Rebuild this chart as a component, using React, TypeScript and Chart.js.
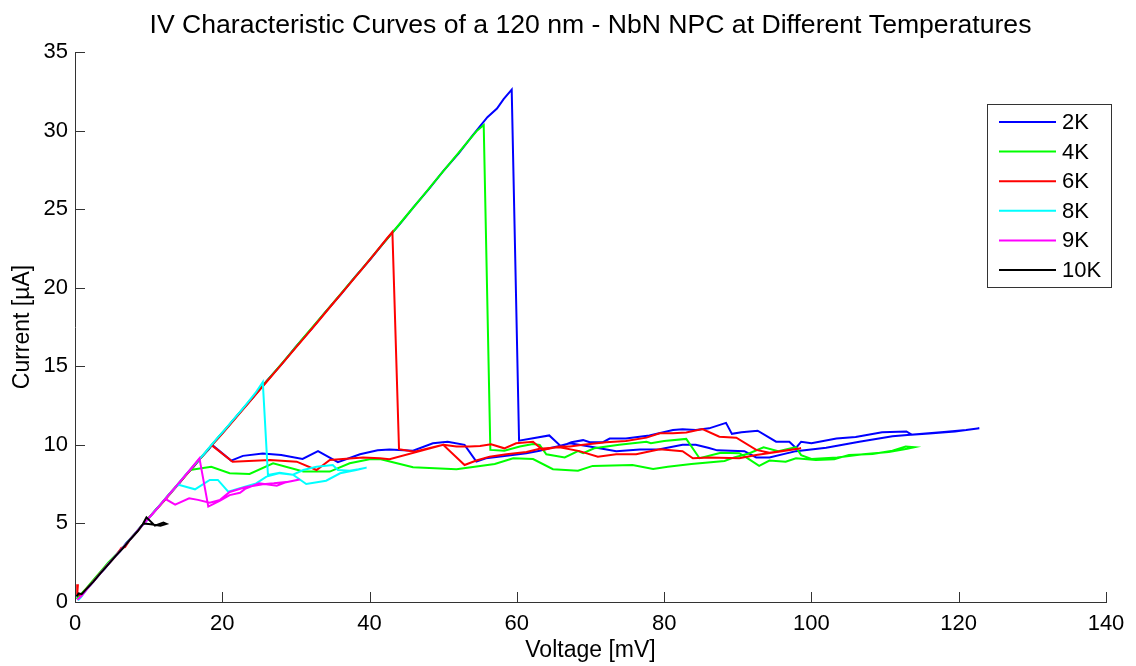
import React, { useEffect, useRef } from "react";
import { Chart, registerables } from "chart.js";

Chart.register(...registerables);

const FONT = '"Liberation Sans", Arial, Helvetica, sans-serif';
const AXIS_COLOR = "#333333";

const TITLE = "IV Characteristic Curves of a 120 nm - NbN NPC at Different Temperatures";
const X_LABEL = "Voltage [mV]";
const Y_LABEL = "Current [µA]";
const SERIES_LABELS = ["2K", "4K", "6K", "8K", "9K", "10K"];
const SERIES_COLORS = ["#0000ff", "#00ff00", "#ff0000", "#00ffff", "#ff00ff", "#000000"];
const X_TICKS = [0, 20, 40, 60, 80, 100, 120, 140];
const Y_TICKS = [0, 5, 10, 15, 20, 25, 30, 35];

// [voltage mV, current µA] in sweep order
const iv2K: [number, number][] = [
  [0.2, 0.45], [0.6, 0.3], [1.2, 0.6], [2.1, 1.1], [3, 1.62], [4.1, 2.15], [5, 2.7], [6.1, 3.22], [7, 3.78], [8.1, 4.3],
  [9, 4.82], [10.1, 5.38], [11, 5.9], [12.1, 6.45], [13, 6.97], [14.1, 7.52], [15, 8.06], [16.1, 8.6], [17, 9.13], [18.1, 9.68],
  [19, 10.22], [20.1, 10.8], [22, 11.86], [24.1, 12.98], [26, 14.05], [28.1, 15.15], [30, 16.25], [32.1, 17.37], [34, 18.45],
  [36.1, 19.58], [38, 20.68], [40.1, 21.8], [42, 22.9], [44.1, 24.05], [46, 25.15], [48.1, 26.3], [50, 27.42], [52.1, 28.55],
  [54, 29.7], [56, 30.85], [57.3, 31.4], [58.2, 32.0], [59.3, 32.6],
  [60.3, 10.27], [62.2, 10.42], [64.4, 10.6], [66, 9.9], [67.4, 10.17], [69, 10.3], [69.9, 10.17], [71.7, 10.17], [72.6, 10.4],
  [74.8, 10.4], [78, 10.6], [81.2, 10.95], [82.5, 11.0], [84.3, 10.95], [86.1, 11.05], [88.4, 11.4], [89.2, 10.7], [90.5, 10.8],
  [92.7, 10.9], [95.2, 10.2], [97, 10.2], [97.9, 9.8], [98.6, 10.2], [100, 10.1], [103.4, 10.4], [106, 10.5], [109.6, 10.8],
  [112.9, 10.85], [113.6, 10.65], [116, 10.72], [119.5, 10.85], [122.8, 11.05],
  [121, 10.95], [118, 10.82], [115.5, 10.72], [111, 10.55], [106.5, 10.2], [102, 9.82], [97.9, 9.6], [94.3, 9.2], [92.5, 9.2],
  [90.9, 9.6], [87.2, 9.65], [86.1, 9.8], [84.3, 10.0], [82.5, 10.0], [79.4, 9.72], [76.7, 9.7], [73.5, 9.6], [69.9, 9.9],
  [67.2, 10.1], [65.5, 9.9], [64.4, 9.78], [63.1, 9.63], [61.3, 9.47], [58.6, 9.3], [55.8, 9.15], [54.5, 8.93], [52.9, 10.0],
  [50.6, 10.2], [48.6, 10.1], [45.9, 9.63], [42.7, 9.7], [41.1, 9.65], [38.7, 9.4], [35.7, 8.9], [33, 9.6], [30.9, 9.1],
  [28, 9.35], [25.5, 9.45], [22.8, 9.3], [21.2, 9.0], [18.6, 10.0],
];

const iv4K: [number, number][] = [
  [0.2, 0.2], [0.7, 0.45], [1.5, 0.85], [2.5, 1.4], [3.5, 1.95], [4.5, 2.5], [5.5, 2.98], [6.5, 3.48], [7.5, 4.02], [8.5, 4.55],
  [9.5, 5.1], [10.5, 5.62], [11.5, 6.15], [12.5, 6.7], [13.5, 7.25], [14.5, 7.78], [15.5, 8.32], [16.5, 8.86], [17.5, 9.4],
  [18.5, 9.95], [19.5, 10.5], [21, 11.3], [23, 12.4], [25, 13.5], [27, 14.58], [29, 15.68], [31, 16.8], [33, 17.9], [35, 19.0],
  [37, 20.12], [39, 21.22], [41, 22.35], [43, 23.45], [45, 24.58], [47, 25.7], [49, 26.85], [51, 27.98], [53, 29.1],
  [54.5, 29.95], [55.5, 30.35],
  [56.4, 9.68], [58.3, 9.63], [60.4, 9.9], [62.2, 10.06], [63.1, 10.0], [64, 9.4], [66.5, 9.2], [68.3, 9.6], [69, 9.47],
  [70.5, 9.78], [73.9, 10.0], [77.6, 10.2], [78.2, 10.1], [80, 10.25], [83, 10.38], [84.8, 9.15], [87.7, 9.5], [90.2, 9.47],
  [91.3, 9.15], [92.9, 8.66], [94.3, 9.0], [96.5, 8.93], [97.9, 9.15], [100.6, 9.04], [103.1, 9.08], [105.1, 9.36],
  [108.3, 9.42], [111, 9.63], [112.8, 9.9], [114, 9.85],
  [113, 9.75], [110.5, 9.55], [107, 9.4], [103.5, 9.2], [100, 9.1], [98.6, 9.35], [97.9, 9.85], [95.5, 9.6], [93.5, 9.85],
  [91.5, 9.45], [89.5, 9.2], [88.2, 8.97], [83.7, 8.78], [80.5, 8.6], [78.5, 8.47], [75.7, 8.72], [70.3, 8.66], [68.3, 8.36],
  [64.9, 8.45], [62.2, 9.1], [59.5, 9.15], [57, 8.78], [51.8, 8.45], [45.9, 8.57], [41.4, 9.1], [40, 9.09], [37.3, 8.83],
  [34.6, 8.3], [31, 8.3], [26.9, 8.83], [23.7, 8.15], [21, 8.2], [18.5, 8.6], [15.6, 8.4],
];

const iv6K: [number, number][] = [
  [0.4, 1.13], [0.3, 0.5], [0.8, 0.4], [1.5, 0.8], [2.5, 1.32], [3.5, 1.88], [4.5, 2.4], [5.5, 2.9], [6.3, 3.45], [6.8, 3.5],
  [7.5, 4.0], [8.5, 4.52], [9.5, 5.08], [10.5, 5.6], [11.5, 6.12], [12.5, 6.65], [13.5, 7.2], [14.5, 7.75], [15.5, 8.3],
  [16.5, 8.85], [17.5, 9.4], [18.5, 9.95], [19.5, 10.45], [21, 11.25], [23, 12.35], [25, 13.45], [26, 14.0], [27, 14.55],
  [29, 15.65], [31, 16.75], [33, 17.85], [35, 18.98], [37, 20.08], [39, 21.2], [41, 22.35], [42.3, 23.1], [43.1, 23.55],
  [44, 9.72], [46.1, 9.57], [50, 10.0], [51.8, 9.9], [53.6, 9.9], [55, 9.93], [56.5, 10.04], [58.3, 9.78], [59.9, 10.1],
  [62.2, 10.2], [63.5, 9.68], [65.8, 9.9], [67.2, 9.9], [69, 10.0], [72.1, 10.17], [74.8, 10.25], [77.6, 10.46], [79.4, 10.74],
  [81.2, 10.74], [83, 10.78], [85.2, 11.0], [87.5, 10.52], [89.8, 10.46], [92.5, 9.68], [94.3, 9.5], [98.6, 9.78],
  [96, 9.6], [92.5, 9.36], [90.2, 9.15], [86.1, 9.19], [83.9, 9.15], [82.5, 9.6], [79.4, 9.72], [76.2, 9.4], [73.5, 9.4],
  [71, 9.25], [68.5, 9.6], [65.8, 9.85], [63.1, 9.75], [61.3, 9.55], [58.6, 9.4], [56.3, 9.25], [54.5, 9.0], [52.9, 8.72],
  [50, 10.0], [42.7, 9.09], [41.4, 9.15], [39.1, 9.2], [34.6, 9.04], [32.8, 8.4], [30.1, 8.93], [26.5, 9.04], [21.4, 8.93],
  [18.5, 10.0],
];

const iv8K: [number, number][] = [
  [0.4, 0.1], [0.8, 0.3], [1.5, 0.75], [2.5, 1.3], [3.5, 1.85], [4.5, 2.4], [5.5, 2.92], [6.5, 3.46], [7.5, 4.0], [8.5, 4.55],
  [9.5, 5.05], [10.5, 5.6], [11.5, 6.15], [12.5, 6.7], [13.5, 7.22], [14.5, 7.8], [15.5, 8.35], [16.5, 8.88], [17.5, 9.42],
  [18.5, 9.98], [19.5, 10.52], [20.5, 11.05], [21.5, 11.6], [22.5, 12.15], [23.5, 12.72], [24.5, 13.3], [25.5, 14.0],
  [26.2, 8.08], [27.8, 8.23], [29.6, 8.1], [31, 8.4], [32.8, 8.6], [35, 8.72], [35.7, 8.4], [37.3, 8.36], [38.5, 8.45],
  [39.6, 8.55],
  [38.2, 8.4], [36, 8.19], [34.1, 7.72], [31.4, 7.51], [29.6, 8.1], [27.8, 8.2], [26, 7.98], [24.6, 7.55], [22.4, 7.24],
  [20.8, 7.02], [19.4, 7.77], [18.3, 7.77], [16.3, 7.17], [14.2, 7.45], [13.6, 7.35],
];

const iv9K: [number, number][] = [
  [0.3, 0.15], [0.9, 0.4], [1.6, 0.8], [2.6, 1.35], [3.6, 1.9], [4.6, 2.45], [5.6, 2.98], [6.6, 3.5], [7.6, 4.05], [8.6, 4.6],
  [9.6, 5.12], [10.6, 5.65], [11.6, 6.2], [12.6, 6.75], [13.6, 7.3], [14.6, 7.85], [15.6, 8.4], [16.3, 8.8], [16.9, 9.15],
  [18.1, 6.07], [19.7, 6.45], [21, 6.8], [22.4, 6.95], [23.1, 7.2], [25, 7.55], [27.4, 7.4], [28.5, 7.6], [30.5, 7.8],
  [29, 7.65], [27, 7.55], [25.5, 7.5], [23.1, 7.3], [21, 7.0], [19.7, 6.5], [18.3, 6.32], [16.7, 6.5], [15.5, 6.6],
  [13.6, 6.2], [12.3, 6.55], [11.9, 6.4],
];

const iv10K: [number, number][] = [
  [0.2, 0.35], [0.5, 0.55], [0.9, 0.5], [1.5, 0.8], [2.5, 1.3], [3.5, 1.85], [4.5, 2.38], [5.5, 2.92], [6.5, 3.42],
  [7.5, 3.98], [8.5, 4.5], [9.2, 4.95], [9.7, 5.39], [10.85, 4.86], [12.0, 5.05], [12.4, 4.97], [11.6, 4.86], [10.3, 4.95],
  [9.3, 5.0],
];

const SERIES_DATA = [iv2K, iv4K, iv6K, iv8K, iv9K, iv10K];

const decorPlugin = {
  id: "decor",
  afterDraw(chart: any) {
    const ctx: CanvasRenderingContext2D = chart.ctx;
    const { left, right, bottom } = chart.chartArea;
    const xs = chart.scales.x;
    const ys = chart.scales.y;
    ctx.save();
    // inward tick marks
    ctx.strokeStyle = AXIS_COLOR;
    ctx.lineWidth = 1;
    ctx.beginPath();
    for (const t of X_TICKS) {
      const px = Math.round(xs.getPixelForValue(t)) + 0.5;
      ctx.moveTo(px, bottom);
      ctx.lineTo(px, bottom - 10);
    }
    for (const t of Y_TICKS) {
      const py = Math.round(ys.getPixelForValue(t)) + 0.5;
      ctx.moveTo(left, py);
      ctx.lineTo(left + 10, py);
    }
    ctx.stroke();

    // title
    ctx.fillStyle = "#000";
    ctx.font = `26.6px ${FONT}`;
    ctx.textAlign = "center";
    ctx.textBaseline = "alphabetic";
    ctx.fillText(TITLE, (left + right) / 2, 33);

    // legend box
    const bx = 987.5, by = 104.5, bw = 124, bh = 183;
    ctx.fillStyle = "#fff";
    ctx.fillRect(bx, by, bw, bh);
    ctx.strokeStyle = AXIS_COLOR;
    ctx.lineWidth = 1;
    ctx.strokeRect(bx, by, bw, bh);
    ctx.font = `22px ${FONT}`;
    ctx.textAlign = "left";
    ctx.textBaseline = "middle";
    chart.data.datasets.forEach((ds: any, i: number) => {
      const y = 122 + i * 29.6;
      ctx.strokeStyle = ds.borderColor;
      ctx.lineWidth = 2;
      ctx.beginPath();
      ctx.moveTo(999, y);
      ctx.lineTo(1056, y);
      ctx.stroke();
      ctx.fillStyle = "#000";
      ctx.fillText(ds.label, 1062, y + 1);
    });
    ctx.restore();
  },
};

export default function App() {
  const ref = useRef<HTMLCanvasElement>(null);
  useEffect(() => {
    document.body.style.margin = "0";
    Chart.defaults.font.family = FONT;
    const datasets = SERIES_DATA.map((pts, i) => ({
      label: SERIES_LABELS[i],
      data: pts.map(([v, c]) => ({ x: v, y: c })),
      borderColor: SERIES_COLORS[i],
      backgroundColor: SERIES_COLORS[i],
      borderWidth: 2,
      showLine: true,
      pointRadius: 0,
      tension: 0,
      fill: false,
      order: SERIES_DATA.length - i,
    }));
    const chart = new Chart(ref.current!, {
      type: "scatter",
      data: { datasets },
      options: {
        responsive: false,
        animation: false,
        events: [],
        layout: { padding: { left: 0, right: 30, top: 52, bottom: 0 } },
        plugins: {
          legend: { display: false },
          tooltip: { enabled: false },
          title: { display: false },
        },
        scales: {
          x: {
            type: "linear",
            min: 0,
            max: 140,
            afterFit: (s: any) => { s.height = 64; },
            afterBuildTicks: (s: any) => { s.ticks = X_TICKS.map((v) => ({ value: v })); },
            grid: { display: false, drawTicks: false },
            border: { display: true, color: AXIS_COLOR, width: 1 },
            ticks: { color: "#000", font: { size: 22 }, padding: 9, maxRotation: 0 },
            title: { display: true, text: X_LABEL, color: "#000", font: { size: 23 }, padding: { top: 0, bottom: 2 } },
          },
          y: {
            type: "linear",
            min: 0,
            max: 35,
            afterFit: (s: any) => { s.width = 75; },
            afterBuildTicks: (s: any) => { s.ticks = Y_TICKS.map((v) => ({ value: v })); },
            grid: { display: false, drawTicks: false },
            border: { display: true, color: AXIS_COLOR, width: 1 },
            ticks: { color: "#000", font: { size: 22 }, padding: 7 },
            title: { display: true, text: Y_LABEL, color: "#000", font: { size: 23 }, padding: { top: 9, bottom: 0 } },
          },
        },
      },
      plugins: [decorPlugin],
    } as any);
    return () => chart.destroy();
  }, []);
  return (
    <div style={{ position: "absolute", left: 0, top: 0, width: 1136, height: 666, background: "#fff" }}>
      <canvas ref={ref} width={1136} height={666} style={{ display: "block" }} />
    </div>
  );
}
